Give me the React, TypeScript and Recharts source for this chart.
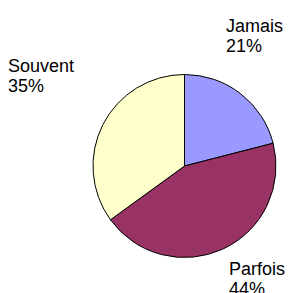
import { PieChart, Pie, Cell } from 'recharts';

const categories = ['Jamais', 'Parfois', 'Souvent'];
const shares = [21, 44, 35];
const colors = ['#9999FF', '#993366', '#FFFFCC'];

// text offsets from the pie centre (left edge, first baseline)
const labelOffsets = [
  { dx: 41.5, dy: -134 },
  { dx: 44.5, dy: 109 },
  { dx: -176.5, dy: -94 },
];

const data = categories.map((name, i) => ({ name, value: shares[i] }));

function renderLabel(props: any) {
  const { cx, cy, index, percent, name } = props;
  const off = labelOffsets[index];
  const x = cx + off.dx;
  const y = cy + off.dy;
  return (
    <text
      x={x}
      y={y}
      fill="#000"
      fontSize={18}
      fontFamily="'Liberation Sans', Arial, sans-serif"
      textAnchor="start"
    >
      <tspan x={x} y={y}>{name}</tspan>
      <tspan x={x} y={y + 20}>{`${Math.round(percent * 100)}%`}</tspan>
    </text>
  );
}

export default function App() {
  return (
    <div style={{ position: 'absolute', left: 0, top: 0, width: 288, height: 293, background: '#fff' }}>
      <PieChart width={288} height={293} margin={{ top: 0, right: 0, bottom: 0, left: 0 }}>
        <Pie
          data={data}
          dataKey="value"
          nameKey="name"
          cx={184.5}
          cy={166}
          outerRadius={91.5}
          startAngle={90}
          endAngle={-270}
          stroke="#000"
          strokeWidth={1}
          label={renderLabel}
          labelLine={false}
          isAnimationActive={false}
        >
          {data.map((d, i) => (
            <Cell key={d.name} fill={colors[i]} />
          ))}
        </Pie>
      </PieChart>
    </div>
  );
}
